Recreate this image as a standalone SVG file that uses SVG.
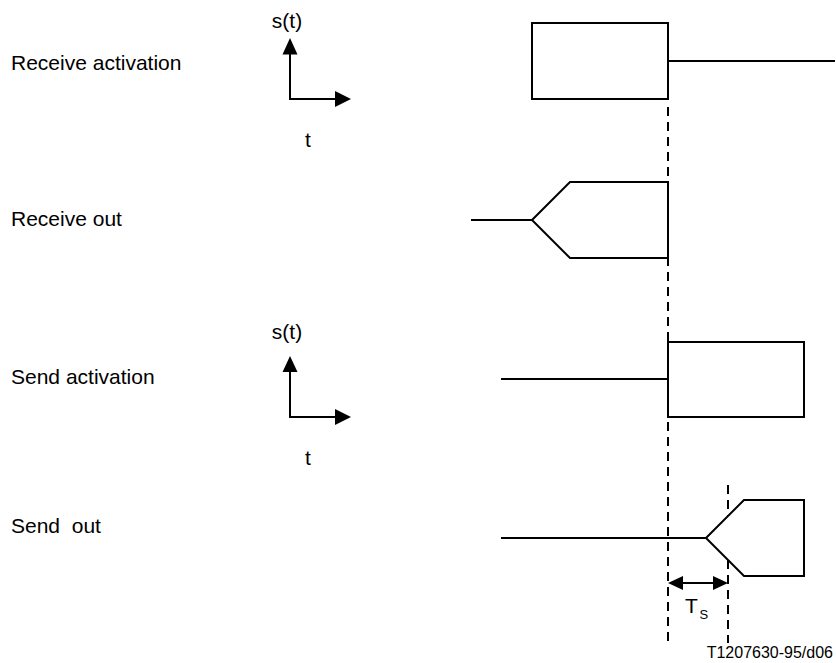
<svg xmlns="http://www.w3.org/2000/svg" width="836" height="663" viewBox="0 0 836 663">
<style>
text{font-family:"Liberation Sans",Arial,sans-serif;fill:#000}
.lbl{font-size:21px}
.ln{stroke:#000;stroke-width:2;fill:none}
.shape{stroke:#000;stroke-width:2;fill:#fff}
.dash{stroke:#000;stroke-width:2;stroke-dasharray:9,6;fill:none}
.ah{fill:#000;stroke:none}
</style>
<rect width="836" height="663" fill="#fff"/>
<g id="labels">
<text class="lbl" x="11" y="70">Receive activation</text>
<text class="lbl" x="11" y="226">Receive out</text>
<text class="lbl" x="11" y="384">Send activation</text>
<text class="lbl" x="11" y="533" xml:space="preserve">Send  out</text>
</g>
<g id="axes1">
<text class="lbl" x="287" y="28" text-anchor="middle">s(t)</text>
<polyline class="ln" points="290,52 290,99 337,99"/>
<polygon class="ah" points="290,38 282.5,54.5 297.5,54.5"/>
<polygon class="ah" points="351,99 335,91 335,107"/>
<text class="lbl" x="308" y="147" text-anchor="middle">t</text>
</g>
<g id="axes2">
<text class="lbl" x="287" y="339" text-anchor="middle">s(t)</text>
<polyline class="ln" points="290,370 290,417 337,417"/>
<polygon class="ah" points="290,356 282.5,372 297.5,372"/>
<polygon class="ah" points="351,417 335,409 335,425"/>
<text class="lbl" x="308" y="465" text-anchor="middle">t</text>
</g>
<g id="connectors">
<line class="dash" x1="668" y1="107" x2="668" y2="643"/>
<line class="dash" x1="728" y1="485" x2="728" y2="643"/>
<line class="ln" x1="668" y1="61" x2="835" y2="61"/>
<line class="ln" x1="471" y1="220" x2="532" y2="220"/>
<line class="ln" x1="501" y1="379" x2="668" y2="379"/>
<line class="ln" x1="501" y1="538" x2="706" y2="538"/>
</g>
<g id="receive-activation">
<rect class="shape" x="532" y="23" width="136" height="76"/>
</g>
<g id="receive-out">
<polygon class="shape" points="532,220 570,182 668,182 668,258 570,258"/>
</g>
<g id="send-activation">
<rect class="shape" x="668" y="342" width="136" height="75"/>
</g>
<g id="send-out">
<polygon class="shape" points="706,538 744,500 804,500 804,576 744,576"/>
</g>
<g id="ts">
<line class="ln" x1="680" y1="583" x2="716" y2="583"/>
<polygon class="ah" points="668,583 683,576 683,590"/>
<polygon class="ah" points="728,583 713,576 713,590"/>
<text class="lbl" x="685" y="613">T</text>
<text x="699.5" y="619" font-size="13">S</text>
</g>
<text x="833" y="658" font-size="16" text-anchor="end">T1207630-95/d06</text>
</svg>
